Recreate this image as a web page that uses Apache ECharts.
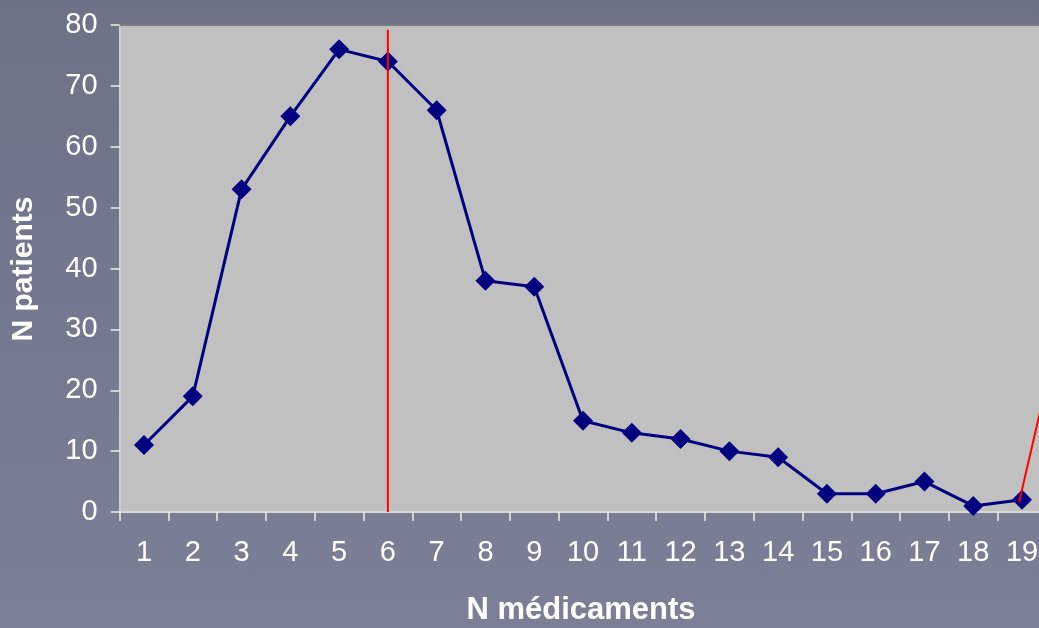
<!DOCTYPE html>
<html><head><meta charset="utf-8">
<script src="https://cdn.jsdelivr.net/npm/echarts@6/dist/echarts.min.js"></script>
<style>
html,body{margin:0;padding:0;overflow:hidden;width:1039px;height:628px;}
body{background:linear-gradient(180deg,#6e7287 0%,#74788e 45%,#7c8096 100%);}
#c{width:1070px;height:628px;}
</style></head><body>
<div id="c"></div>
<script>
const categories = ['1','2','3','4','5','6','7','8','9','10','11','12','13','14','15','16','17','18','19'];
const patients = [11,19,53,65,76,74,66,38,37,15,13,12,10,9,3,3,5,1,2];
const medianLine = [[6,79.2],[6,0]];
const rightRedLine = [[18.94,1.6],[19.5,21]];
const yTicks = {min:0,max:80,interval:10};

const catW = 48.78;
const gridLeft = 119.6;
const gridRight = 1070 - (gridLeft + categories.length*catW);
const FONT = '"Liberation Sans", Arial, sans-serif';
const chart = echarts.init(document.getElementById('c'));
chart.setOption({
  backgroundColor:'transparent',
  animation:false,
  grid:{left:gridLeft,top:25,bottom:116,right:gridRight,show:true,backgroundColor:'#c0c0c0',borderWidth:0},
  xAxis:[{
    type:'category',data:categories,boundaryGap:true,
    axisLine:{lineStyle:{color:'#d8d8d8',width:2}},
    axisTick:{show:true,length:9,inside:false,lineStyle:{color:'#f0f0f0',width:1.5},alignWithLabel:false},
    axisLabel:{color:'#ffffff',fontSize:29,fontFamily:FONT,margin:26},
    splitLine:{show:false}
  },{
    type:'value',min:0.5,max:categories.length+0.5,show:false
  }],
  yAxis:{
    type:'value',min:yTicks.min,max:yTicks.max,interval:yTicks.interval,
    axisLine:{show:true,lineStyle:{color:'#d0d0d0',width:2}},
    axisTick:{show:true,length:9,lineStyle:{color:'#f0f0f0',width:1.5}},
    axisLabel:{color:'#ffffff',fontSize:29,fontFamily:FONT,margin:22},
    splitLine:{show:false}
  },
  graphic:[
    {type:'rect',shape:{x:gridLeft,y:24,width:1000,height:2},style:{fill:'#7c7c7c'},z:10},
    {type:'text',x:24,y:269,rotation:Math.PI/2,style:{text:'N patients',fill:'#ffffff',font:'bold 30px '+FONT,align:'center',verticalAlign:'middle'}},
    {type:'text',x:581,y:610,style:{text:'N médicaments',fill:'#ffffff',font:'bold 31px '+FONT,align:'center',verticalAlign:'middle'}}
  ],
  series:[
    {type:'line',data:patients,symbol:'diamond',symbolSize:20,
     lineStyle:{color:'#000080',width:3},itemStyle:{color:'#000080'},z:5},
    {type:'line',xAxisIndex:1,data:medianLine,symbol:'none',lineStyle:{color:'#ff0000',width:2},z:6},
    {type:'line',xAxisIndex:1,data:rightRedLine,symbol:'none',lineStyle:{color:'#ff0000',width:2},z:6}
  ]
});
</script>
</body></html>
